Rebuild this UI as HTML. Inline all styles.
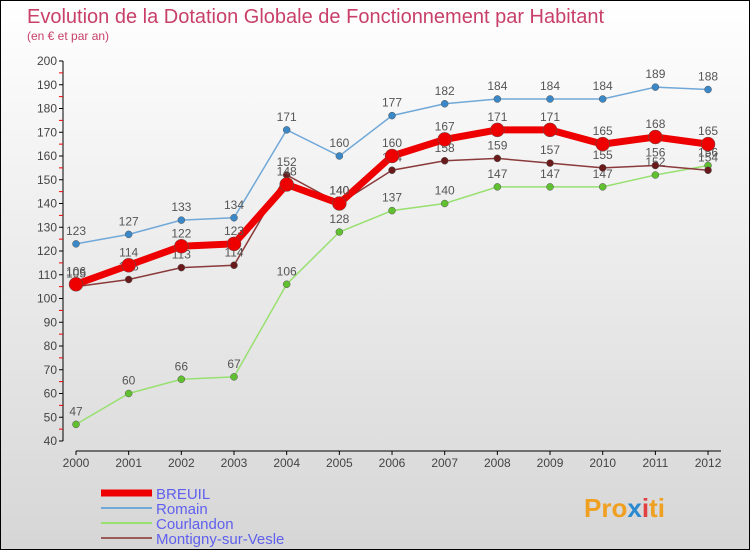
<!DOCTYPE html>
<html><head><meta charset="utf-8"><style>
body{margin:0}
#wrap{width:750px;height:550px;position:relative;overflow:hidden;box-sizing:border-box;border:1px solid #000;background:linear-gradient(#ffffff,#d6d6d6);font-family:"Liberation Sans",sans-serif}
svg text{font-family:"Liberation Sans",sans-serif}
</style></head><body>
<div id="wrap">
<svg id="chart" width="750" height="550">
<text x="26" y="22" font-size="20" fill="#c8406a">Evolution de la Dotation Globale de Fonctionnement par Habitant</text>
<text x="26" y="39" font-size="12" fill="#c8406a">(en € et par an)</text>
<g id="axes"></g><g id="series"></g><g id="legend"></g>
<text x="583" y="516" font-size="26" font-weight="bold" fill="#f0a020">Pro<tspan fill="#2a8ad0">x</tspan><tspan fill="#e04040">i</tspan>ti</text>
</svg></div>
<script>
const years=["2000","2001","2002","2003","2004","2005","2006","2007","2008","2009","2010","2011","2012"];
const yTicks=[40,50,60,70,80,90,100,110,120,130,140,150,160,170,180,190,200];
const seriesNames=["BREUIL","Romain","Courlandon","Montigny-sur-Vesle"];
const breuil=[106,114,122,123,148,140,160,167,171,171,165,168,165];
const romain=[123,127,133,134,171,160,177,182,184,184,184,189,188];
const courlandon=[47,60,66,67,106,128,137,140,147,147,147,152,156];
const montigny=[105,108,113,114,152,140,154,158,159,157,155,156,154];
const NS="http://www.w3.org/2000/svg";
const X=i=>75+i*52.67;
const Y=v=>440-(v-40)*2.375;
function mk(t,a,p){const e=document.createElementNS(NS,t);for(const k in a)e.setAttribute(k,a[k]);p.appendChild(e);return e;}
const ax=document.getElementById('axes');
let e=mk('line',{x1:62,y1:Y(200),x2:62,y2:Y(40),stroke:'#000'},ax);


yTicks.forEach(v=>{
 mk('line',{x1:58,x2:62,y1:Y(v),y2:Y(v),stroke:'#000'},ax);
 if(v<200) mk('line',{x1:58,x2:62,y1:Y(v+5),y2:Y(v+5),stroke:'#e00'},ax);
 const t=mk('text',{x:56,y:Y(v)+4,'font-size':12,fill:'#444','text-anchor':'end'},ax);t.textContent=v;
 
 
});
e=mk('line',{x1:75,y1:450,x2:720,y2:450,stroke:'#000'},ax);


years.forEach((y,i)=>{
 mk('line',{x1:X(i),x2:X(i),y1:450,y2:454,stroke:'#000'},ax);
 const t=mk('text',{x:X(i),y:466,'font-size':12,fill:'#444','text-anchor':'middle'},ax);t.textContent=y;
 
 
});
const sg=document.getElementById('series');
const defs=[[courlandon,'#98e070','#60c030',1.5,3.5,'courlandon'],[romain,'#70a8d8','#3a88c8',1.5,3.5,'romain'],[montigny,'#8a3a3a','#6a1a1a',1.5,3.5,'montigny-sur-vesle'],[breuil,'#ee0000','#ee0000',7,7,'breuil']];
defs.forEach(([d,lc,pc,w,r,n])=>{
 const l=mk('polyline',{points:d.map((v,i)=>X(i)+','+Y(v)).join(' '),fill:'none',stroke:lc,'stroke-width':w},sg);
 
 
 d.forEach((v,i)=>{
  const c=mk('circle',{cx:X(i),cy:Y(v),r:r,fill:pc,stroke:'#555','stroke-width':0.5},sg);
  
  
  const t=mk('text',{x:X(i),y:Y(v)-9,'font-size':12,fill:'#555','text-anchor':'middle'},sg);t.textContent=v;
  
  
 });
});
const lg=document.getElementById('legend');
const lcol=['#ee0000','#70a8d8','#98e070','#9a5a5a'],lw=[7,2,2,2];
seriesNames.forEach((s,i)=>{
 const yy=492+i*15;
 const g=mk('g',{},lg);
 
 
 mk('line',{x1:100,x2:151,y1:yy,y2:yy,stroke:lcol[i],'stroke-width':lw[i]},g);
 const t=mk('text',{x:155,y:yy+6,'font-size':15,fill:'#6060ee'},g);t.textContent=s;
});
</script>
</body></html>
